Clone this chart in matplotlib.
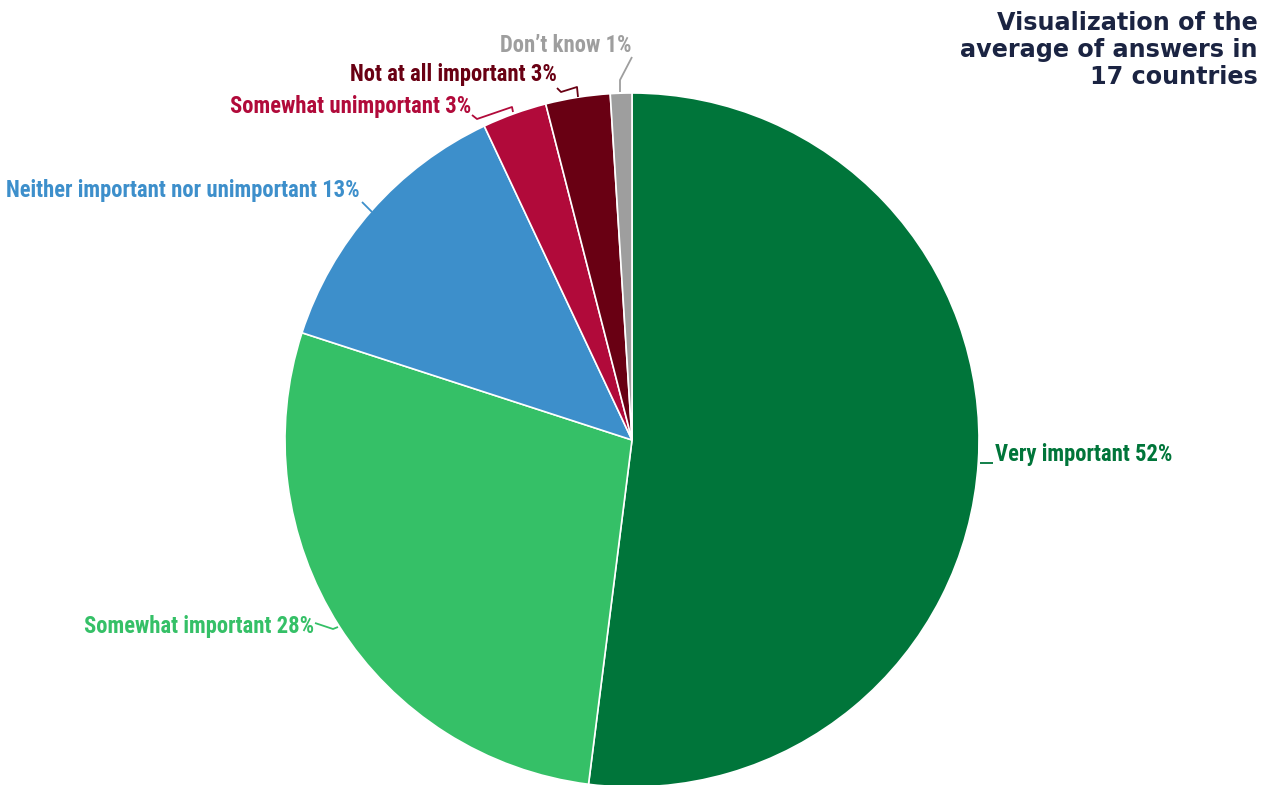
import matplotlib
matplotlib.use("Agg")
import matplotlib.pyplot as plt
from matplotlib import font_manager as fm

categories = ["Very important", "Somewhat important", "Neither important nor unimportant",
              "Somewhat unimportant", "Not at all important", "Don\u2019t know"]
values = [52, 28, 13, 3, 3, 1]
colors = ["#00753a", "#35c067", "#3d8fcb", "#b10a3a", "#690013", "#9e9e9e"]
title_lines = ["Visualization of the", "average of answers in", "17 countries"]

avail = {f.name for f in fm.fontManager.ttflist}
label_font = "DejaVu Sans"
for cand in ["Roboto Condensed", "Liberation Sans Narrow", "DejaVu Sans Condensed", "Open Sans Condensed"]:
    if cand in avail:
        label_font = cand
        break

W, H = 1266, 785
fig = plt.figure(figsize=(W / 100, H / 100), dpi=100)
ax = fig.add_axes([0, 0, 1, 1])

def Y(py):
    return H - py

cx, cy, r = 632, Y(440), 347
ax.pie(values, colors=colors, startangle=90, counterclock=False, center=(cx, cy), radius=r,
       wedgeprops=dict(edgecolor="white", linewidth=1.2), frame=True)
ax.set_xlim(0, W)
ax.set_ylim(0, H)
ax.set_aspect("auto")
ax.axis("off")

# label placements (pixel coords) and leader lines
labels = [
    (995, 454, "left", [(980, 463), (993, 463)]),
    (314, 626, "right", [(338, 627), (333, 629), (315, 623)]),
    (360, 190, "right", [(372, 212), (362, 202)]),
    (471, 106, "right", [(513, 112), (512, 107), (477, 119), (472, 115)]),
    (557, 75, "right", [(578, 97), (577, 87), (561, 92), (557, 88)]),
    (631, 46, "right", [(620, 92), (620, 80), (632, 57)]),
]
for (lx, ly, ha, pts), cat, v, c in zip(labels, categories, values, colors):
    xs = [p[0] for p in pts]
    ys = [Y(p[1]) for p in pts]
    ax.plot(xs, ys, color=c, lw=1.3, solid_capstyle="butt")
    ax.text(lx, Y(ly), f"{cat} {v}%", ha=ha, va="center", color=c,
            fontsize=16.3, fontweight="bold", family=label_font)

for i, line in enumerate(title_lines):
    ax.text(1258, Y(23 + 27 * i), line, ha="right", va="center", color="#1b2442",
            fontsize=17.2, fontweight="bold", family="DejaVu Sans")

fig.savefig("out.png", dpi=100)
